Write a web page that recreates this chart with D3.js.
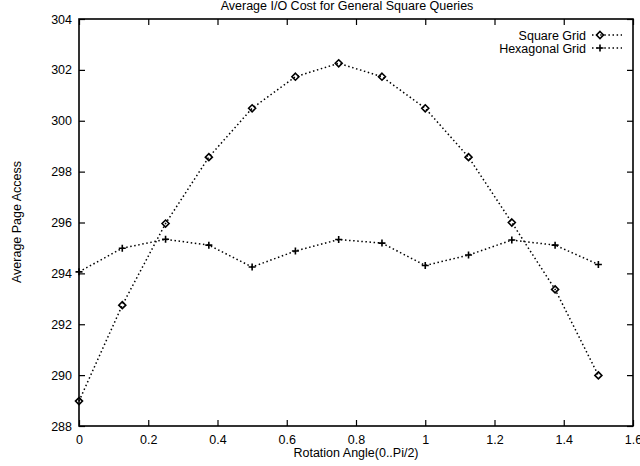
<!DOCTYPE html>
<html>
<head>
<meta charset="utf-8">
<script src="https://cdn.jsdelivr.net/npm/d3@7"></script>
<style>
  body { margin: 0; background: white; }
  #chart text { font-family: "Liberation Sans", Arial, sans-serif; font-size: 12.5px; fill: #000; }
</style>
</head>
<body>
<div id="chart"></div>
<script>
var angles = [0, 0.125, 0.25, 0.375, 0.5, 0.625, 0.75, 0.875, 1.0, 1.125, 1.25, 1.375, 1.5];
var squareGrid = [288.98, 292.75, 295.96, 298.57, 300.49, 301.73, 302.26, 301.73, 300.49, 298.57, 296.0, 293.37, 289.99];
var hexGrid = [294.06, 294.99, 295.34, 295.11, 294.25, 294.88, 295.33, 295.19, 294.31, 294.72, 295.31, 295.11, 294.35];
var xTicks = [0, 0.2, 0.4, 0.6, 0.8, 1, 1.2, 1.4, 1.6];
var yTicks = [288, 290, 292, 294, 296, 298, 300, 302, 304];

var margin = { top: 19, right: 7, bottom: 40, left: 79 };
var width = 640 - margin.left - margin.right;
var height = 466 - margin.top - margin.bottom;

var svg = d3.select("#chart")
  .append("svg")
    .attr("width", 640)
    .attr("height", 466)
  .append("g")
    .attr("transform", "translate(" + margin.left + "," + margin.top + ")");

var x = d3.scaleLinear().domain([0, 1.6]).range([0, width]);
var y = d3.scaleLinear().domain([288, 304]).range([height, 0]);

var tick = 6;

// ticks on all four sides, gnuplot style (inward)
svg.append("g")
  .attr("transform", "translate(0," + height + ")")
  .call(d3.axisBottom(x).tickValues(xTicks).tickSize(-tick).tickPadding(tick + 3).tickFormat(d3.format("")))
  .call(function(g) { g.select(".domain").remove(); });

svg.append("g")
  .call(d3.axisTop(x).tickValues(xTicks).tickSize(-tick).tickFormat(""))
  .call(function(g) { g.select(".domain").remove(); });

svg.append("g")
  .call(d3.axisLeft(y).tickValues(yTicks).tickSize(-tick).tickPadding(tick + 1).tickFormat(d3.format("d")))
  .call(function(g) { g.select(".domain").remove(); });

svg.append("g")
  .attr("transform", "translate(" + width + ",0)")
  .call(d3.axisRight(y).tickValues(yTicks).tickSize(-tick).tickFormat(""))
  .call(function(g) { g.select(".domain").remove(); });

svg.selectAll(".tick line").attr("stroke", "#000").attr("stroke-width", 1.2);

svg.append("rect")
  .attr("width", width)
  .attr("height", height)
  .attr("fill", "none")
  .attr("stroke", "#000")
  .attr("stroke-width", 1.6);

var series = [
  { name: "Square Grid", values: squareGrid, marker: "diamond" },
  { name: "Hexagonal Grid", values: hexGrid, marker: "plus" }
];

var line = d3.line()
  .x(function(d) { return x(d[0]); })
  .y(function(d) { return y(d[1]); });

function drawMarker(g, kind) {
  if (kind == "diamond") {
    g.append("path").attr("d", "M0,-3.5L3.5,0L0,3.5L-3.5,0Z")
      .attr("fill", "none").attr("stroke", "#000").attr("stroke-width", 1.6);
  } else {
    g.append("path").attr("d", "M-3.5,0H3.5M0,-3.5V3.5")
      .attr("stroke", "#000").attr("stroke-width", 1.6);
  }
}

series.forEach(function(s) {
  var pts = angles.map(function(a, i) { return [a, s.values[i]]; });
  svg.append("path")
    .datum(pts)
    .attr("d", line)
    .attr("fill", "none")
    .attr("stroke", "#000")
    .attr("stroke-width", 1.5)
    .attr("stroke-dasharray", "1.5,2.6");
  svg.selectAll(null)
    .data(pts)
    .enter()
      .append("g")
      .attr("transform", function(d) { return "translate(" + x(d[0]) + "," + y(d[1]) + ")"; })
      .each(function() { drawMarker(d3.select(this), s.marker); });
});

// legend
var legend = svg.append("g").attr("transform", "translate(" + (width - 46) + ",16)");
series.forEach(function(s, i) {
  var row = legend.append("g").attr("transform", "translate(0," + (i * 13) + ")");
  row.append("text").attr("x", -1).attr("y", 4.5).attr("text-anchor", "end").text(s.name);
  row.append("line")
    .attr("x1", 5).attr("x2", 35)
    .attr("stroke", "#000").attr("stroke-width", 1.5)
    .attr("stroke-dasharray", "1.5,2.6");
  drawMarker(row.append("g").attr("transform", "translate(13,0)"), s.marker);
});

// titles
d3.select("svg").append("text")
  .attr("x", 347).attr("y", 10)
  .attr("text-anchor", "middle")
  .text("Average I/O Cost for General Square Queries");

d3.select("svg").append("text")
  .attr("x", 356).attr("y", 457)
  .attr("text-anchor", "middle")
  .text("Rotation Angle(0..Pi/2)");

d3.select("svg").append("text")
  .attr("transform", "translate(21,222) rotate(-90)")
  .attr("text-anchor", "middle")
  .text("Average Page Access");
</script>
</body>
</html>
